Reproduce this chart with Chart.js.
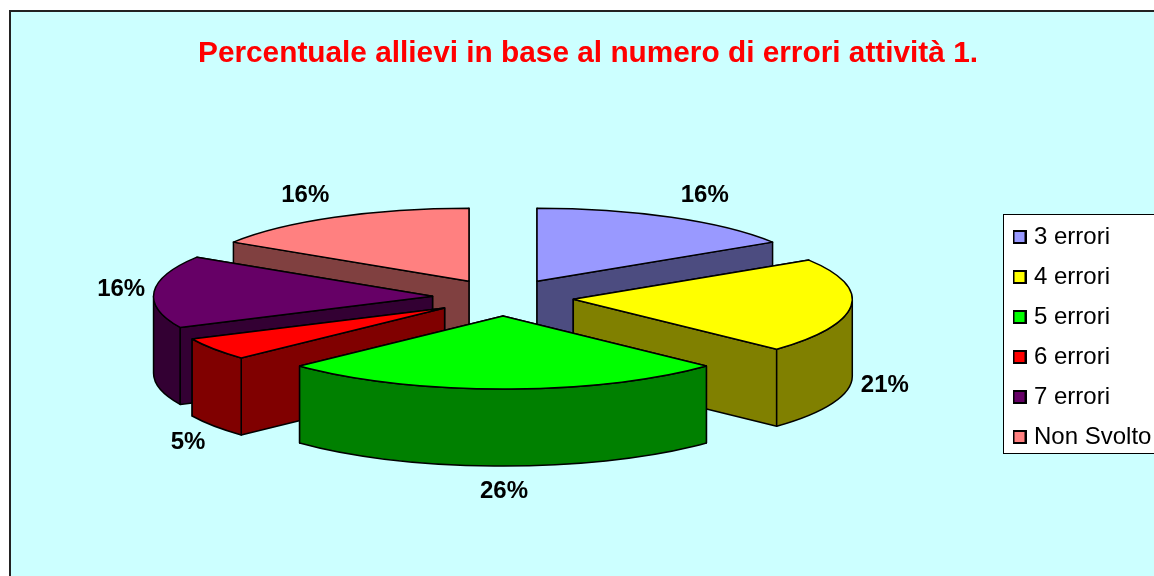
<!DOCTYPE html>
<html>
<head>
<meta charset="utf-8">
<style>html,body{margin:0;padding:0;background:#fff;overflow:hidden}canvas{display:block}</style>
<script src="https://cdn.jsdelivr.net/npm/chart.js@4/dist/chart.umd.js"></script>
</head>
<body>
<canvas id="c" width="1154" height="576"></canvas>
<script>
const titleText = "Percentuale allievi in base al numero di errori attività 1.";
const categories = ["3 errori", "4 errori", "5 errori", "6 errori", "7 errori", "Non Svolto"];
const percentages = [16, 21, 26, 5, 16, 16];
const topColors = ["#9999FF", "#FFFF00", "#00FF00", "#FF0000", "#660066", "#FF8080"];
const wallColors = ["#4C4C80", "#808000", "#008000", "#800000", "#330033", "#804040"];
const labelNudgeX = [16, -2, 1, 4, 3, -12];
const labelNudgeY = [-14, 78, 93, 88, -2, -14];

const CENTER_X = 503, CENTER_Y = 297.5, RADIUS = 279, TILT = 0.262, DEPTH = 77, EXPLODE = 70.6, LABEL_R = 315;
const FONT = '"Liberation Sans", Arial, sans-serif';

function swatch(color) {
  const s = document.createElement('canvas');
  s.width = 14; s.height = 14;
  const g = s.getContext('2d');
  g.fillStyle = color; g.fillRect(0, 0, 14, 14);
  g.strokeStyle = '#000'; g.lineWidth = 2; g.strokeRect(1, 1, 12, 12);
  return s;
}

const pie3d = {
  id: 'pie3d',
  beforeDraw(chart) {
    const ctx = chart.ctx;
    ctx.save();
    ctx.fillStyle = '#fff'; ctx.fillRect(0, 0, 1154, 576);
    ctx.fillStyle = '#CCFFFF'; ctx.fillRect(10, 11, 1144, 565);
    ctx.strokeStyle = '#222'; ctx.lineWidth = 2;
    ctx.beginPath(); ctx.moveTo(10, 577); ctx.lineTo(10, 11); ctx.lineTo(1155, 11); ctx.stroke();
    ctx.fillStyle = '#fff'; ctx.fillRect(1003.5, 214.5, 152, 239);
    ctx.strokeStyle = '#000'; ctx.lineWidth = 1; ctx.strokeRect(1003.5, 214.5, 152, 239);
    ctx.restore();
  },
  afterLayout(chart) {
    // pie centre sits at fixed place inside the plot box
    chart.chartArea = Object.assign({}, chart.chartArea, {
      left: CENTER_X - 280, right: CENTER_X + 280, top: CENTER_Y - 200, bottom: CENTER_Y + 200,
      width: 560, height: 400
    });
    const l = chart.legend;
    const h = l.height;
    l.left = 1001; l.right = l.left + l.width;
    l.top = 337 - h / 2; l.bottom = l.top + h;
  },
  beforeDatasetDraw(chart) {
    const ctx = chart.ctx;
    const arcs = chart.getDatasetMeta(0).data;
    const items = arcs.map((arc, i) => {
      const mid = (arc.startAngle + arc.endAngle) / 2;
      return {arc, i, mid,
        ax: arc.x + EXPLODE * Math.cos(mid),
        ay: arc.y + EXPLODE * TILT * Math.sin(mid),
        r: arc.outerRadius};
    }).sort((a, b) => Math.sin(a.mid) - Math.sin(b.mid));

    ctx.save();
    ctx.lineJoin = 'round';
    ctx.lineWidth = 1.5;
    ctx.strokeStyle = '#000';
    for (const it of items) {
      const {arc, i, ax, ay, r} = it;
      const s = arc.startAngle, e = arc.endAngle;
      const px = a => ax + r * Math.cos(a), py = a => ay + r * TILT * Math.sin(a);
      ctx.fillStyle = wallColors[i];
      // cut faces, the one further back first
      for (const a of [s, e].sort((p, q) => Math.sin(p) - Math.sin(q))) {
        ctx.beginPath();
        ctx.moveTo(ax, ay); ctx.lineTo(px(a), py(a));
        ctx.lineTo(px(a), py(a) + DEPTH); ctx.lineTo(ax, ay + DEPTH);
        ctx.closePath(); ctx.fill(); ctx.stroke();
      }
      // outer rim, front half only
      const a0 = Math.max(s, 0), a1 = Math.min(e, Math.PI);
      if (a1 > a0) {
        ctx.beginPath();
        ctx.ellipse(ax, ay, r, r * TILT, 0, a0, a1);
        ctx.ellipse(ax, ay + DEPTH, r, r * TILT, 0, a1, a0, true);
        ctx.closePath(); ctx.fill(); ctx.stroke();
      }
      // top face, drawn by the library's arc element in a flattened space
      ctx.save();
      ctx.translate(ax, ay); ctx.scale(1, TILT); ctx.translate(-arc.x, -arc.y);
      arc.draw(ctx);
      ctx.restore();
      ctx.beginPath();
      ctx.moveTo(ax, ay); ctx.lineTo(px(s), py(s));
      ctx.ellipse(ax, ay, r, r * TILT, 0, s, e);
      ctx.closePath(); ctx.stroke();
    }
    // percentage labels
    ctx.fillStyle = '#000';
    ctx.font = 'bold 24px ' + FONT;
    ctx.textAlign = 'center'; ctx.textBaseline = 'middle';
    for (const it of items) {
      const {i, mid} = it;
      const tx = CENTER_X + (EXPLODE + LABEL_R) * Math.cos(mid) + labelNudgeX[i];
      const ty = CENTER_Y + (EXPLODE + LABEL_R) * TILT * Math.sin(mid) + labelNudgeY[i];
      ctx.fillText(percentages[i] + '%', tx, ty);
    }
    ctx.restore();
    return false;
  }
};

new Chart(document.getElementById('c'), {
  type: 'pie',
  data: {
    labels: categories,
    datasets: [{data: percentages, backgroundColor: topColors, borderWidth: 0}]
  },
  plugins: [pie3d],
  options: {
    responsive: false,
    animation: false,
    radius: RADIUS,
    layout: {padding: {left: 22, top: 0}},
    events: [],
    plugins: {
      tooltip: {enabled: false},
      title: {
        display: true, text: titleText, color: '#FF0000',
        font: {family: FONT, size: 29.8, weight: 'bold'},
        padding: {top: 36, bottom: 10}
      },
      legend: {
        position: 'right',
        labels: {
          color: '#000',
          font: {family: FONT, size: 24},
          padding: 16,
          usePointStyle: true,
          pointStyleWidth: 5,
          boxHeight: 14,
          generateLabels: chart => categories.map((name, i) => ({
            text: name, pointStyle: swatch(topColors[i]), fillStyle: topColors[i],
            strokeStyle: '#000', lineWidth: 2, hidden: false, index: i
          }))
        }
      }
    }
  }
});
</script>
</body>
</html>
